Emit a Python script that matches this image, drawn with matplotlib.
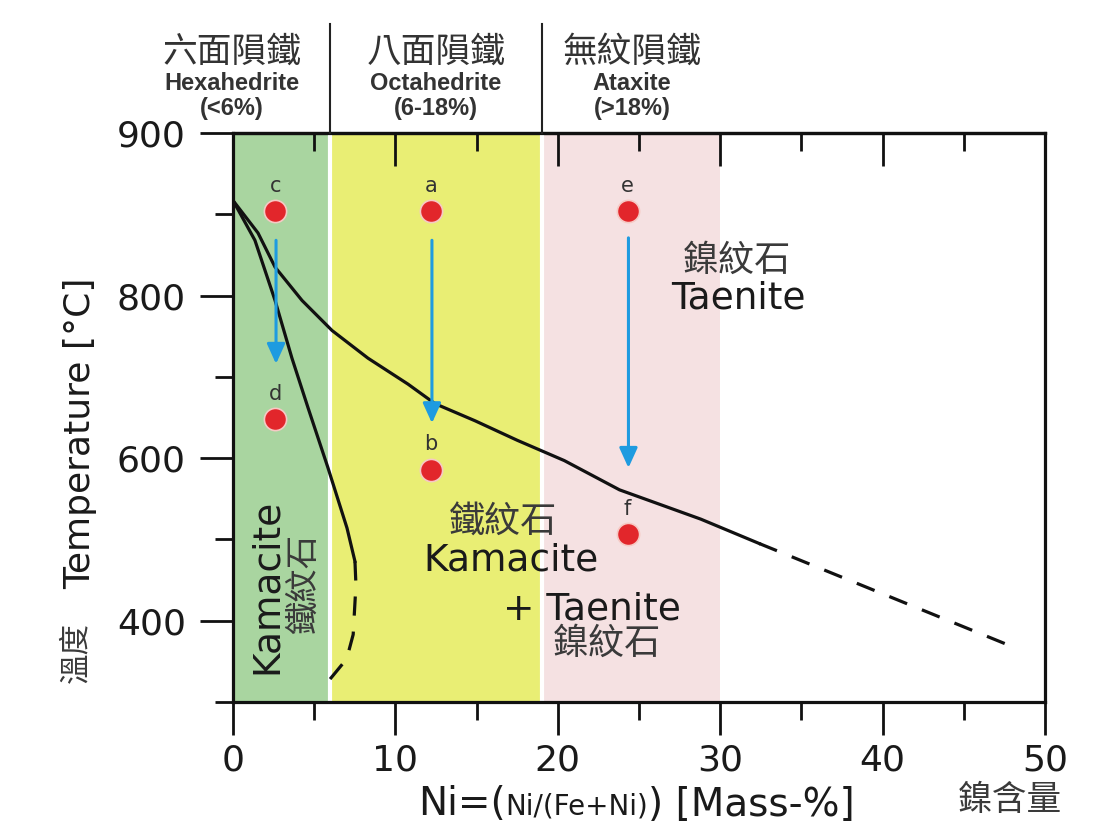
import matplotlib.pyplot as plt
from matplotlib.ticker import MultipleLocator, FixedLocator

CJK = ['Noto Sans CJK TC', 'DejaVu Sans']

# meteorite classes by Ni content
class_bounds = [0, 6, 19, 30]
class_colors = ['#a9d5a0', '#e9ee74', '#f5e1e2']
class_zh = ['六面隕鐵', '八面隕鐵', '無紋隕鐵']
class_en = ['Hexahedrite', 'Octahedrite', 'Ataxite']
class_range = ['(<6%)', '(6-18%)', '(>18%)']

# taenite solvus (gamma / alpha+gamma)
solvus_ni = [0, 1.54, 2.59, 4.25, 6.1, 8.31, 10.78, 12.44, 14.9, 17.5, 20.4, 23.8, 28.8, 32.4]
solvus_t = [917, 877, 835, 794, 757, 723, 691, 667, 646, 622, 597, 561, 525, 495]
solvus_ext_ni = [32.4, 48.0]
solvus_ext_t = [495, 368]

# kamacite boundary (alpha / alpha+gamma)
kam_ni = [0, 1.35, 2.59, 3.63, 4.62, 5.85, 7.02, 7.51]
kam_t = [917, 868, 794, 723, 662, 588, 514, 473]
kam_ext_ni = [7.51, 7.57, 7.4, 7.0, 5.97]
kam_ext_t = [473, 444, 383, 353, 328]

# sample points
pt_labels = ['c', 'd', 'a', 'b', 'e', 'f']
pt_ni = [2.6, 2.6, 12.2, 12.2, 24.3, 24.3]
pt_t = [904, 648, 904, 586, 904, 507]

# cooling paths
arrow_ni = [2.65, 12.25, 24.35]
arrow_start = [868, 868, 871]
arrow_end = [716, 643, 588]

x_ticks = [0, 10, 20, 30, 40, 50]
y_ticks = [400, 600, 800, 1000]
y_tick_labels = ['400', '600', '800', '900']

W, H = 1110, 838
fig = plt.figure(figsize=(W / 100, H / 100), dpi=100)
ax = fig.add_axes([233 / W, (H - 702) / H, (1045 - 233) / W, (702 - 133) / H])
ax.set_xlim(0, 50)
ax.set_ylim(300, 1000)

# class bands
for i, c in enumerate(class_colors):
    ax.axvspan(class_bounds[i], class_bounds[i + 1], color=c, lw=0, zorder=0)
for b in class_bounds[1:3]:
    ax.axvline(b, color='white', lw=3, zorder=0.5)

# phase boundaries
ax.plot(solvus_ni, solvus_t, color='#111111', lw=2.3, zorder=2)
ax.plot(solvus_ext_ni, solvus_ext_t, color='#111111', lw=2.3, dashes=(6, 5), zorder=2)
ax.plot(kam_ni, kam_t, color='#111111', lw=2.3, zorder=2)
ax.plot(kam_ext_ni, kam_ext_t, color='#111111', lw=2.3, dashes=(6, 5), zorder=2)

# cooling arrows
for x, y0, y1 in zip(arrow_ni, arrow_start, arrow_end):
    ax.annotate('', xy=(x, y1), xytext=(x, y0),
                arrowprops=dict(arrowstyle='-|>,head_length=0.55,head_width=0.25',
                                color='#1e9be0', lw=2.2, mutation_scale=22,
                                shrinkA=0, shrinkB=0), zorder=3)

# sample points and letters
ax.plot(pt_ni, pt_t, 'o', ms=16, color='#e2262b', mec='#f6c9c4', mew=1.2, zorder=4)
for lab, x, y in zip(pt_labels, pt_ni, pt_t):
    ax.text(x, y + 31, lab, ha='center', va='center', fontsize=15, color='#333333')

# phase names
ax.text(2.1, 442, 'Kamacite', rotation=90, ha='center', va='center', fontsize=27, color='#1a1a1a')
ax.text(4.3, 446, '鐵紋石', rotation=90, ha='center', va='center', fontsize=24,
        color='#3a3a3a', family=CJK)
ax.text(16.6, 520, '鐵紋石', ha='center', va='center', fontsize=26, color='#3a3a3a', family=CJK)
ax.text(17.1, 474, 'Kamacite', ha='center', va='center', fontsize=27, color='#1a1a1a')
ax.text(22.1, 414, '+ Taenite', ha='center', va='center', fontsize=27, color='#1a1a1a')
ax.text(23.0, 372, '鎳紋石', ha='center', va='center', fontsize=26, color='#3a3a3a', family=CJK)
ax.text(31.0, 843, '鎳紋石', ha='center', va='center', fontsize=26, color='#3a3a3a', family=CJK)
ax.text(31.1, 796, 'Taenite', ha='center', va='center', fontsize=27, color='#1a1a1a')

# spines and ticks
for s in ax.spines.values():
    s.set_linewidth(2.3)
    s.set_color('#111111')
ax.xaxis.set_major_locator(FixedLocator(x_ticks))
ax.xaxis.set_minor_locator(MultipleLocator(5))
ax.yaxis.set_major_locator(FixedLocator(y_ticks))
ax.set_yticklabels(y_tick_labels)
ax.yaxis.set_minor_locator(MultipleLocator(100))
ax.tick_params(axis='both', which='both', direction='out', width=2, color='#111111',
               right=False, top=False)
ax.tick_params(axis='both', which='major', length=24)
ax.tick_params(axis='both', which='minor', length=13)
ax.tick_params(axis='x', which='major', pad=6, labelsize=26, labelcolor='#1a1a1a')
ax.tick_params(axis='y', which='major', pad=10, labelsize=26, labelcolor='#1a1a1a')

top = ax.secondary_xaxis('top')
top.xaxis.set_major_locator(FixedLocator(x_ticks[1:-1]))
top.xaxis.set_minor_locator(MultipleLocator(5))
top.tick_params(which='both', direction='in', width=2, color='#111111', labeltop=False)
top.tick_params(which='major', length=24)
top.tick_params(which='minor', length=13)
top.spines['top'].set_linewidth(2.3)

# class headers above the plot
for i in range(3):
    cx = (232, 436, 632)[i] / W
    fig.text(cx, 1 - 52 / H, class_zh[i], ha='center', va='center', fontsize=25,
             color='#333333', family=CJK)
    fig.text(cx, 1 - 83 / H, class_en[i], ha='center', va='center', fontsize=17,
             color='#333333', family='Liberation Sans', weight='bold')
    fig.text(cx, 1 - 108 / H, class_range[i], ha='center', va='center', fontsize=17,
             color='#333333', family='Liberation Sans', weight='bold')
for b in class_bounds[1:3]:
    xf = ax.transData.transform((b, 0))[0] / W
    fig.add_artist(plt.Line2D([xf, xf], [1 - 24 / H, 1 - 133 / H], color='#222222', lw=1.5))

# axis titles
fig.text(80 / W, 1 - 433 / H, 'Temperature [°C]', rotation=90, ha='center', va='center',
         fontsize=26, color='#1a1a1a')
fig.text(76 / W, 1 - 652 / H, '溫度', rotation=90, ha='center', va='center', fontsize=22,
         color='#3a3a3a', family=CJK)

t1 = fig.text(418 / W, 1 - 815 / H, 'Ni=(', ha='left', va='baseline', fontsize=28, color='#1a1a1a')
t2 = ax.annotate('Ni/(Fe+Ni)', xy=(1, 0), xycoords=t1, xytext=(0, 2), textcoords='offset points',
                 ha='left', va='bottom', fontsize=20, color='#1a1a1a', annotation_clip=False)
t3 = ax.annotate(') [Mass-%]', xy=(1, 0), xycoords=t2, xytext=(0, -3), textcoords='offset points',
                 ha='left', va='bottom', fontsize=28, color='#1a1a1a', annotation_clip=False)
fig.text(1010 / W, 1 - 800 / H, '鎳含量', ha='center', va='center', fontsize=25,
         color='#3a3a3a', family=CJK)

fig.savefig('out.png', dpi=100)
